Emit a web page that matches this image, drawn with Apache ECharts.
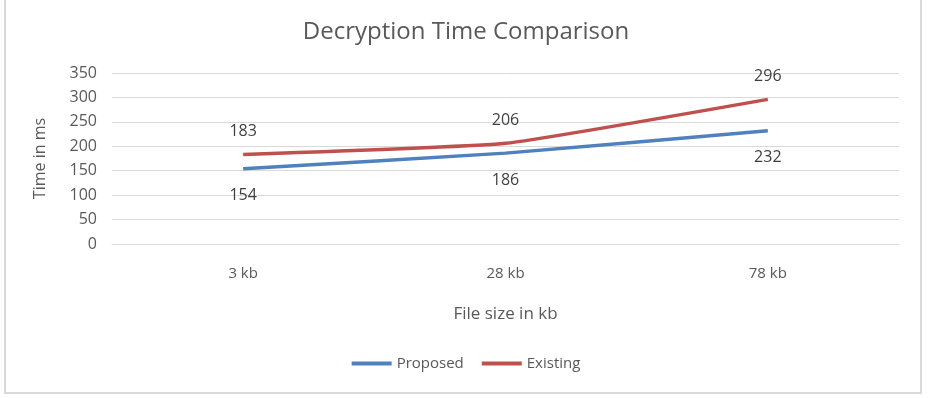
<!DOCTYPE html>
<html>
<head>
<meta charset="utf-8">
<script src="https://cdn.jsdelivr.net/npm/echarts@6/dist/echarts.min.js"></script>
<style>
    html, body { margin: 0; padding: 0; background: #fff; }
    #frame { position: absolute; left: 4px; top: 0; width: 918px; height: 394px; border: 2px solid #d9d9d9; border-top: none; box-sizing: border-box; }
    #main { width: 932px; height: 398px; }
</style>
</head>
<body>
<div id="frame"></div>
<div id="main"></div>
<script>
const categories = ["3 kb", "28 kb", "78 kb"];
const proposed = [154, 186, 232];
const existing = [183, 206, 296];
const seriesNames = ["Proposed", "Existing"];

const font = "Open Sans";
const textColor = "#595959";

var myChart = echarts.init(document.getElementById("main"));
var option = {
    textStyle: { fontFamily: font, color: textColor },
    title: {
        text: "Decryption Time Comparison",
        left: "center",
        top: 15,
        textStyle: { fontFamily: font, fontSize: 24, fontWeight: "normal", color: textColor },
    },
    legend: {
        data: seriesNames,
        bottom: 22,
        itemWidth: 40,
        itemHeight: 4,
        itemGap: 18,
        icon: "rect",
        textStyle: { fontFamily: font, fontSize: 15, color: textColor },
    },
    grid: { left: 112, right: 33, top: 73, bottom: 154 },
    xAxis: {
        type: "category",
        data: categories,
        name: "File size in kb",
        nameLocation: "middle",
        nameGap: 62,
        nameTextStyle: { fontFamily: font, fontSize: 17, color: textColor },
        axisLine: { lineStyle: { color: "#d9d9d9" } },
        axisTick: { show: false },
        axisLabel: { margin: 22, fontSize: 15, color: textColor, fontFamily: font },
    },
    yAxis: {
        type: "value",
        min: 0,
        max: 350,
        interval: 50,
        name: "Time in ms",
        nameLocation: "middle",
        nameGap: 64,
        nameTextStyle: { fontFamily: font, fontSize: 16, color: textColor },
        axisLine: { show: false },
        axisTick: { show: false },
        axisLabel: { margin: 15, fontSize: 16, color: textColor, fontFamily: font },
        splitLine: { lineStyle: { color: "#d9d9d9", width: 1 } },
    },
    series: [
        {
            name: "Proposed",
            type: "line",
            data: proposed,
            smooth: 0.12,
            symbol: "circle",
            symbolSize: 0,
            showSymbol: true,
            lineStyle: { width: 3.5, color: "#4F81BD" },
            itemStyle: { color: "#4F81BD" },
            label: { show: true, position: "bottom", distance: 19, fontSize: 16, color: "#404040", fontFamily: font },
        },
        {
            name: "Existing",
            type: "line",
            data: existing,
            smooth: 0.12,
            symbol: "circle",
            symbolSize: 0,
            showSymbol: true,
            lineStyle: { width: 3.5, color: "#C0504D" },
            itemStyle: { color: "#C0504D" },
            label: { show: true, position: "top", distance: 15, fontSize: 16, color: "#404040", fontFamily: font },
        },
    ],
};
myChart.setOption(option);
</script>
</body>
</html>
